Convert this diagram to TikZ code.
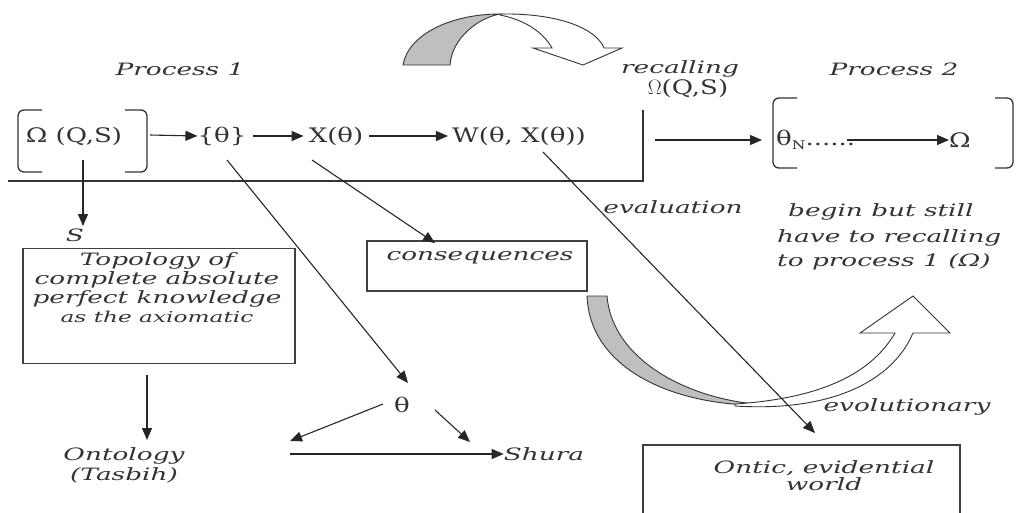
\documentclass[tikz,border=0pt]{standalone}
\usepackage{fontspec}
\setmainfont{DejaVu Serif}
\newfontfamily\rmf[FakeStretch=1.3]{DejaVu Serif}
\newfontfamily\itf[FakeStretch=1.55]{DejaVu Serif}
\usetikzlibrary{arrows.meta}
\begin{document}
\begin{tikzpicture}[x=1pt,y=-1pt,
  lbl/.style={inner sep=0pt, text=black!80, font=\itf\itshape\fontsize{17}{20}\selectfont},
  rlbl/.style={inner sep=0pt, text=black!80, font=\rmf\fontsize{20}{24}\selectfont},
  arr/.style={-{Triangle[length=12pt,width=10pt]}, line width=1.1pt, draw=black!85},
  ln/.style={line width=1.2pt, draw=black!80},
  boxx/.style={draw=black!75, line width=1.3pt, inner sep=0pt, minimum width=#1},
  brk/.style={line width=1.3pt, draw=black!80, rounded corners=6pt},
  gray3d/.style={fill=black!25, draw=black!80, line width=0.9pt},
  white3d/.style={fill=white, draw=black!80, line width=0.9pt}
]
\useasboundingbox (0,0) rectangle (1016,512);

% ---------- curved arrows ----------
\filldraw[gray3d] (403,65) .. controls (408,35) and (450,14) .. (500,14)
  .. controls (478,18) and (452,38) .. (450,65) -- cycle;
\filldraw[white3d] (500,14) .. controls (562,13) and (597,30) .. (604,48)
  -- (622,48) -- (583,65) -- (533,48) -- (552,48)
  .. controls (543,32) and (525,20) .. (500,15) -- cycle;

\filldraw[gray3d] (587,296) -- (607,296) .. controls (612,360) and (690,402) .. (770,405)
  .. controls (680,408) and (590,372) .. (587,296) -- cycle;
\filldraw[white3d] (735,406) .. controls (830,412) and (892,382) .. (913,333)
  -- (950,333) -- (913,296) -- (860,333) -- (895,333)
  .. controls (872,372) and (825,398) .. (735,404) -- cycle;

% ---------- top row ----------
\node[lbl] (p1) at (180,69) {Process 1};
\node[lbl] (p2) at (894,69) {Process 2};
\node[lbl] (rec) at (680,69) {recalling};
\node[rlbl] (recO) at (688,88) {$\Omega$(Q,S)};

\draw[brk] (42,110) -- (18,110) -- (18,172) -- (42,172);
\draw[brk] (125,110) -- (147,110) -- (147,172) -- (125,172);
\node[rlbl] (om) at (74,136) {Ω (Q,S)};
\node[rlbl] (th) at (222,136) {\{θ\}};
\node[rlbl] (xt) at (336,136) {X(θ)};
\node[rlbl] (wt) at (519,136) {W(θ, X(θ))};

\coordinate (b1r) at (150,135);
\draw[arr] (b1r) -- (th.west);
\draw[arr] (th.east) ++(6,0) -- ([xshift=-5pt]xt.west);
\draw[arr] ([xshift=6pt]xt.east) -- ([xshift=-4pt]wt.west);

\coordinate (hl) at (8,181);
\coordinate (hc) at (643,181);
\coordinate (ht) at (643,110);
\draw[ln] (hl) -- (hc) -- (ht);

% process 2
\draw[brk] (797,98) -- (773,98) -- (773,168) -- (797,168);
\draw[brk] (995,98) -- (1013,98) -- (1013,168) -- (995,168);
\node[rlbl, anchor=west] (thn) at (776,140) {θ\raisebox{-4pt}{\fontsize{12}{12}\selectfont N}......};
\node[rlbl] (om2) at (960,140) {Ω};
\coordinate (a2s) at (655,140);
\coordinate (a2e) at (762,140);
\draw[arr] (a2s) -- (a2e);
\draw[arr] (847,140) -- (om2.west);

% ---------- S branch ----------
\coordinate (sS) at (83,160);
\node[lbl] (S) at (75,235) {S};
\draw[arr] (sS) -- (83,226);

\node[boxx=272pt, minimum height=115pt] (topo) at (159,306) {};
\node[lbl, align=center, anchor=north] (topot) at (157,252) {Topology of\\[-1pt]complete absolute\\[-1pt]perfect knowledge\\[-1pt]{\fontsize{15}{17}\selectfont as the axiomatic}};
\node[lbl, align=center] (onto) at (124,465) {Ontology\\(Tasbih)};
\draw[arr] (147,375) -- (147,440);

% ---------- theta branch ----------
\node[rlbl] (th2) at (402,405) {θ};
\coordinate (thS) at (227,160);
\draw[arr] (thS) -- (408,383);
\coordinate (tlA) at (383,404);
\coordinate (tlB) at (290,441);
\draw[arr] (tlA) -- (tlB);
\coordinate (trA) at (435,410);
\draw[arr] (trA) -- (470,442);
\node[lbl] (shura) at (544,454) {Shura};
\coordinate (hsA) at (290,454);
\draw[arr] (hsA) -- (shura.west);

% ---------- consequences ----------
\node[boxx=220pt, minimum height=50pt] (cons) at (477,266) {};
\node[lbl] (const) at (480,258) {consequences};
\coordinate (xS) at (312,160);
\draw[arr] (xS) -- (435,243);

% ---------- W branch ----------
\node[boxx=317pt, minimum height=70pt] (ontic) at (801.5,480) {};
\node[lbl, align=center] (ontict) at (824,476) {Ontic, evidential\\[-3pt]world};
\coordinate (wS) at (543,152);
\draw[arr] (wS) -- (815,433);

\node[lbl] (eval) at (673,207) {evaluation};
\node[lbl, anchor=west] (beg1) at (788,212) {begin but still};
\node[lbl, anchor=west] (beg2) at (777,238) {have to recalling};
\node[lbl, anchor=west] (beg3) at (777,262) {to process 1 (Ω)};
\node[lbl] (evo) at (907,407) {evolutionary};
\end{tikzpicture}
\end{document}
